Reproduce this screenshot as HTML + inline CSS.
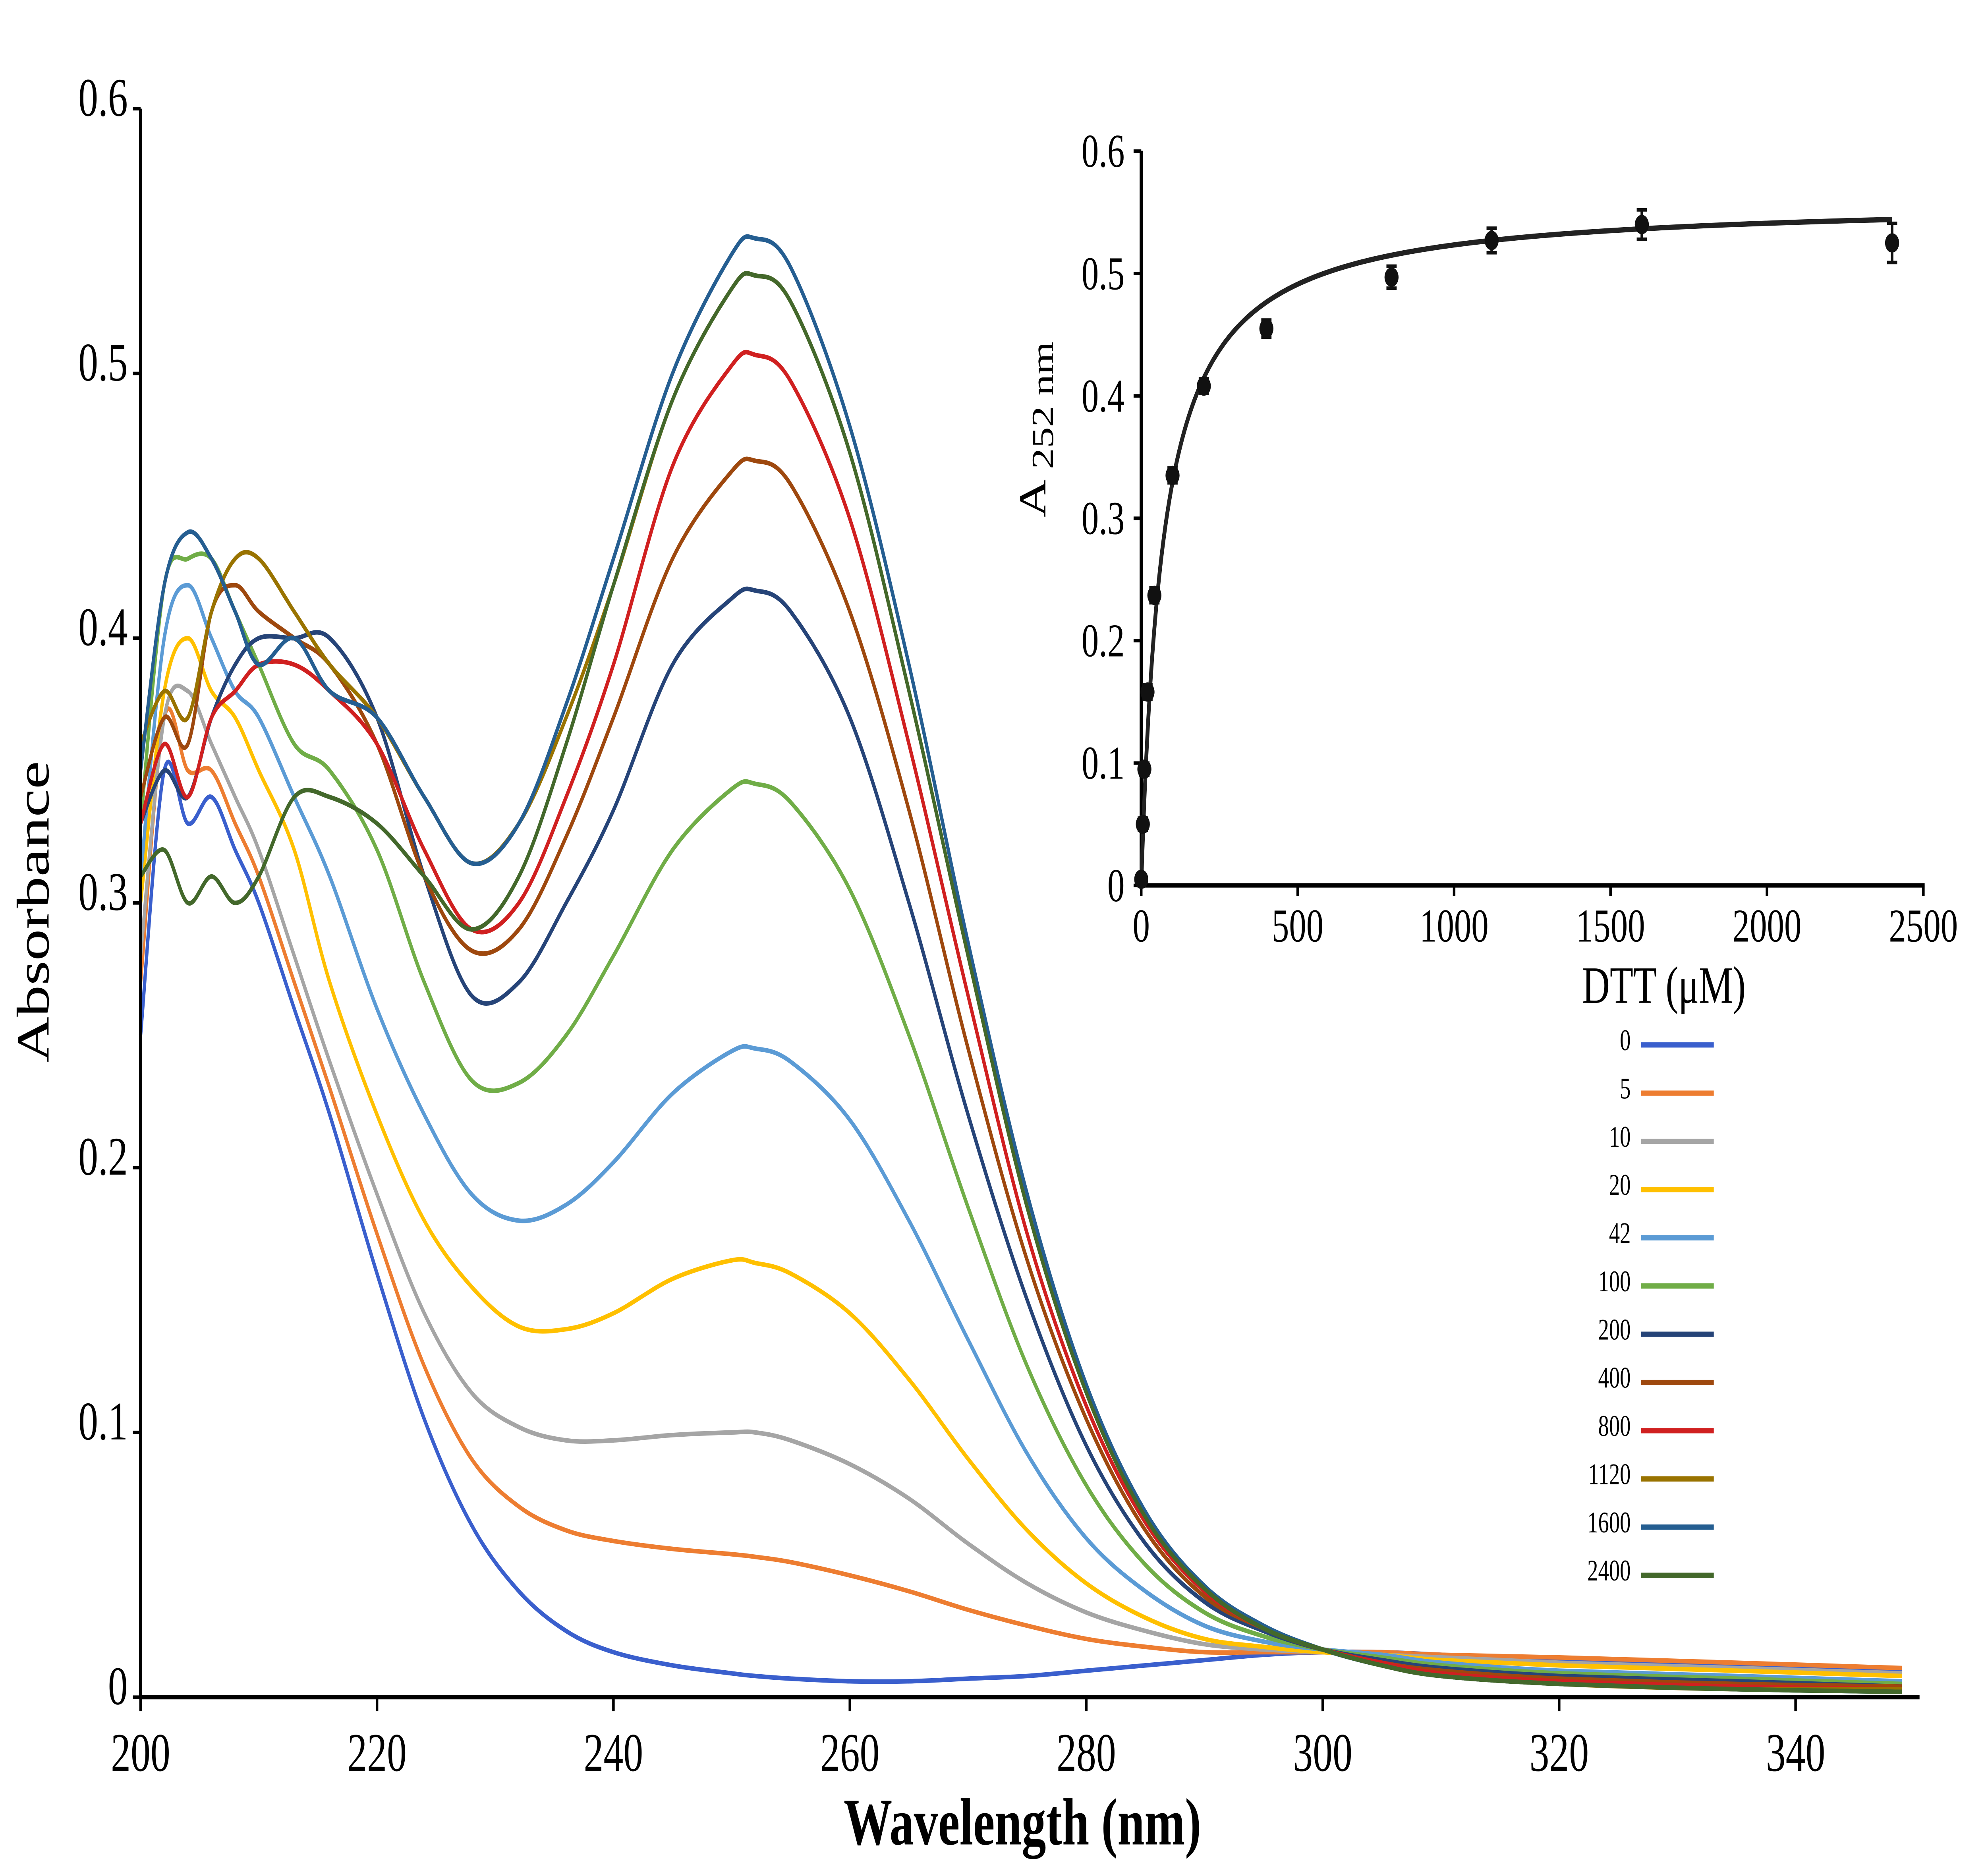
<!DOCTYPE html>
<html><head><meta charset="utf-8"><style>
html,body{margin:0;padding:0;background:#fff;width:100%;height:100%;overflow:hidden;}
svg{display:block;position:fixed;left:0;top:0;width:100vw;height:100vh;font-family:"Liberation Serif",serif;}
</style></head><body>
<svg id="chart" viewBox="0 0 1554 1070" preserveAspectRatio="none" xmlns="http://www.w3.org/2000/svg">
<rect width="1554" height="1070" fill="#fff"/>
<g id="main"></g>
<g id="inset"></g>
<g id="legend"></g>
</svg>
<script>
const wavelengths=[200,202,204,206,208,210,213,216,220,224,228,232,236,240,245,250,252,255,260,265,270,275,280,285,290,295,300,305,310,320,335,349];
const seriesLabels=["0","5","10","20","42","100","200","400","800","1120","1600","2400"];
const seriesColors=["#3a5fcd","#ed7d31","#a5a5a5","#ffc000","#5b9bd5","#70ad47","#264478","#9e480e","#d02020","#997300","#255e91","#43682b"];
const s0=[0.25,0.35,0.33,0.34,0.32,0.30,0.26,0.22,0.16,0.105,0.065,0.04,0.025,0.017,0.012,0.009,0.008,0.007,0.006,0.006,0.007,0.008,0.010,0.012,0.014,0.016,0.017,0.017,0.016,0.014,0.012,0.010];
const s5=[0.27,0.37,0.35,0.35,0.33,0.31,0.27,0.23,0.175,0.125,0.09,0.072,0.063,0.059,0.056,0.054,0.053,0.051,0.046,0.040,0.033,0.027,0.022,0.019,0.017,0.017,0.017,0.017,0.016,0.015,0.013,0.011];
const s10=[0.28,0.37,0.38,0.36,0.34,0.32,0.28,0.24,0.19,0.145,0.115,0.102,0.097,0.097,0.099,0.100,0.100,0.097,0.088,0.075,0.058,0.043,0.032,0.025,0.020,0.018,0.017,0.016,0.015,0.013,0.011,0.009];
const s20=[0.30,0.38,0.40,0.38,0.37,0.35,0.32,0.27,0.22,0.18,0.155,0.14,0.139,0.145,0.158,0.165,0.164,0.160,0.145,0.12,0.09,0.063,0.043,0.030,0.022,0.019,0.017,0.016,0.014,0.012,0.010,0.008];
const s42=[0.31,0.40,0.42,0.40,0.38,0.37,0.34,0.31,0.26,0.22,0.19,0.18,0.186,0.202,0.228,0.244,0.245,0.240,0.218,0.18,0.135,0.092,0.060,0.040,0.027,0.021,0.018,0.016,0.013,0.010,0.008,0.006];
const s100=[0.33,0.42,0.43,0.43,0.41,0.39,0.36,0.35,0.32,0.27,0.233,0.232,0.25,0.28,0.32,0.343,0.345,0.338,0.305,0.25,0.185,0.125,0.080,0.050,0.032,0.023,0.018,0.015,0.012,0.009,0.007,0.005];
const s200=[0.33,0.35,0.34,0.37,0.39,0.40,0.40,0.40,0.37,0.31,0.265,0.27,0.30,0.335,0.39,0.415,0.418,0.41,0.37,0.30,0.22,0.15,0.095,0.058,0.036,0.025,0.018,0.014,0.011,0.008,0.006,0.004];
const s400=[0.34,0.37,0.36,0.41,0.42,0.41,0.40,0.39,0.36,0.31,0.282,0.29,0.325,0.37,0.43,0.463,0.467,0.458,0.41,0.335,0.245,0.165,0.105,0.063,0.038,0.026,0.018,0.013,0.010,0.007,0.005,0.004];
const s800=[0.33,0.36,0.34,0.37,0.38,0.39,0.39,0.38,0.36,0.32,0.29,0.30,0.34,0.39,0.465,0.503,0.507,0.497,0.445,0.36,0.265,0.175,0.110,0.066,0.040,0.026,0.018,0.013,0.009,0.006,0.004,0.003];
const s1120=[0.36,0.38,0.37,0.41,0.43,0.43,0.41,0.39,0.37,0.34,0.315,0.33,0.37,0.42,0.49,0.532,0.537,0.527,0.47,0.38,0.28,0.185,0.115,0.068,0.041,0.026,0.018,0.012,0.008,0.005,0.003,0.003];
const s1600=[0.35,0.42,0.44,0.43,0.41,0.39,0.40,0.38,0.37,0.34,0.315,0.33,0.375,0.43,0.50,0.545,0.551,0.54,0.48,0.39,0.285,0.19,0.118,0.070,0.042,0.027,0.018,0.012,0.008,0.005,0.003,0.002];
const s2400=[0.31,0.32,0.30,0.31,0.30,0.31,0.34,0.34,0.33,0.31,0.29,0.31,0.36,0.42,0.49,0.532,0.537,0.527,0.47,0.38,0.28,0.185,0.115,0.068,0.041,0.026,0.018,0.012,0.008,0.005,0.003,0.002];
const allSeries=[s0,s5,s10,s20,s42,s100,s200,s400,s800,s1120,s1600,s2400];
const xTicks=[200,220,240,260,280,300,320,340];
const yTicks=[0,0.1,0.2,0.3,0.4,0.5,0.6];
const yTickLabels=["0","0.1","0.2","0.3","0.4","0.5","0.6"];
const dttConc=[0,5,10,20,42,100,200,400,800,1120,1600,2400];
const a252=[0.005,0.05,0.095,0.158,0.237,0.335,0.408,0.455,0.497,0.527,0.540,0.525];
const a252Err=[0.004,0.005,0.005,0.006,0.006,0.006,0.006,0.007,0.009,0.010,0.012,0.016];
const fitParams=[0.56,70];
const insetXTicks=[0,500,1000,1500,2000,2500];
const insetYTicks=[0,0.1,0.2,0.3,0.4,0.5,0.6];
const insetYTickLabels=["0","0.1","0.2","0.3","0.4","0.5","0.6"];

const NS="http://www.w3.org/2000/svg";
function mk(parent,tag,attrs,text){const e=document.createElementNS(NS,tag);for(const k in attrs)e.setAttribute(k,attrs[k]);if(text!==undefined)e.textContent=text;parent.appendChild(e);return e;}
const xS=v=>110+(v-200)*9.25;
const yS=v=>968-v*1510;
const ixS=v=>893+v*0.2448;
const iyS=v=>505-v*698;
function smooth(pts){let d="M"+pts[0][0]+","+pts[0][1];for(let i=0;i<pts.length-1;i++){const p0=pts[Math.max(0,i-1)],p1=pts[i],p2=pts[i+1],p3=pts[Math.min(pts.length-1,i+2)];const c1=[p1[0]+(p2[0]-p0[0])/6,p1[1]+(p2[1]-p0[1])/6],c2=[p2[0]-(p3[0]-p1[0])/6,p2[1]-(p3[1]-p1[1])/6];d+=" C"+c1[0].toFixed(2)+","+c1[1].toFixed(2)+" "+c2[0].toFixed(2)+","+c2[1].toFixed(2)+" "+p2[0].toFixed(2)+","+p2[1].toFixed(2);}return d;}

const main=document.getElementById('main');
allSeries.forEach((s,i)=>{
 const p=mk(main,'path',{d:smooth(s.map((v,j)=>[xS(wavelengths[j]),yS(v)])),fill:'none',stroke:seriesColors[i],'stroke-width':2.6});
 
 
});
let ax=mk(main,'line',{x1:110,y1:62,x2:110,y2:968,stroke:'#000','stroke-width':2.5});

ax=mk(main,'line',{x1:110,y1:968,x2:1502,y2:968,stroke:'#000','stroke-width':2.5});

xTicks.forEach(t=>{mk(main,'line',{x1:xS(t),y1:968,x2:xS(t),y2:976,stroke:'#000','stroke-width':2});
 const l=mk(main,'text',{x:xS(t),y:1010,'font-size':31,'text-anchor':'middle'},String(t));
 });
yTicks.forEach((t,i)=>{mk(main,'line',{x1:104,y1:yS(t),x2:110,y2:yS(t),stroke:'#000','stroke-width':2});
 const l=mk(main,'text',{x:100,y:yS(t)+4,'font-size':31,'text-anchor':'end'},yTickLabels[i]);
 });
let t=mk(main,'text',{x:0,y:0,'font-size':36,'text-anchor':'middle',transform:'translate(38,520) rotate(-90)'},'Absorbance');

t=mk(main,'text',{x:800,y:1052,'font-size':38,'font-weight':'bold','text-anchor':'middle'},'Wavelength (nm)');


const inset=document.getElementById('inset');
ax=mk(inset,'line',{x1:893,y1:86,x2:893,y2:505,stroke:'#000','stroke-width':2.5});

ax=mk(inset,'line',{x1:893,y1:505,x2:1506,y2:505,stroke:'#000','stroke-width':2.5});

insetXTicks.forEach(v=>{mk(inset,'line',{x1:ixS(v),y1:505,x2:ixS(v),y2:511,stroke:'#000','stroke-width':2});
 const l=mk(inset,'text',{x:ixS(v),y:537,'font-size':27,'text-anchor':'middle'},String(v));
 });
insetYTicks.forEach((v,i)=>{mk(inset,'line',{x1:887,y1:iyS(v),x2:893,y2:iyS(v),stroke:'#000','stroke-width':2});
 const l=mk(inset,'text',{x:880,y:iyS(v)+9,'font-size':27,'text-anchor':'end'},insetYTickLabels[i]);
 });
const fitPts=[];for(let c=0;c<=2400;c+=(c<200?2:20))fitPts.push([ixS(c),iyS(fitParams[0]*c/(fitParams[1]+c))]);
let fp=mk(inset,'path',{d:smooth(fitPts),fill:'none',stroke:'#222','stroke-width':3});

dttConc.forEach((c,i)=>{const x=ixS(c),y=iyS(a252[i]),e=a252Err[i]*698;
 mk(inset,'line',{x1:x,y1:y-e,x2:x,y2:y+e,stroke:'#111','stroke-width':2});
 mk(inset,'line',{x1:x-4,y1:y-e,x2:x+4,y2:y-e,stroke:'#111','stroke-width':2});
 mk(inset,'line',{x1:x-4,y1:y+e,x2:x+4,y2:y+e,stroke:'#111','stroke-width':2});
 const d=mk(inset,'circle',{cx:x,cy:y,r:5.5,fill:'#111'});
 });
t=mk(inset,'text',{x:0,y:0,'font-size':30,'text-anchor':'middle',transform:'translate(818,245) rotate(-90)'});

mk(t,'tspan',{},'A ');mk(t,'tspan',{'font-size':24,dy:6},'252 nm');
t=mk(inset,'text',{x:1302,y:572,'font-size':30,'text-anchor':'middle'},'DTT (μM)');


const legend=document.getElementById('legend');
seriesLabels.forEach((lab,i)=>{const y=596+i*27.5;
 const g=mk(legend,'g',{});
 
 mk(g,'text',{x:1276,y:y+3,'font-size':17,'text-anchor':'end'},lab);
 mk(g,'line',{x1:1284,y1:y,x2:1341,y2:y,stroke:seriesColors[i],'stroke-width':3});});
</script>
</body></html>
